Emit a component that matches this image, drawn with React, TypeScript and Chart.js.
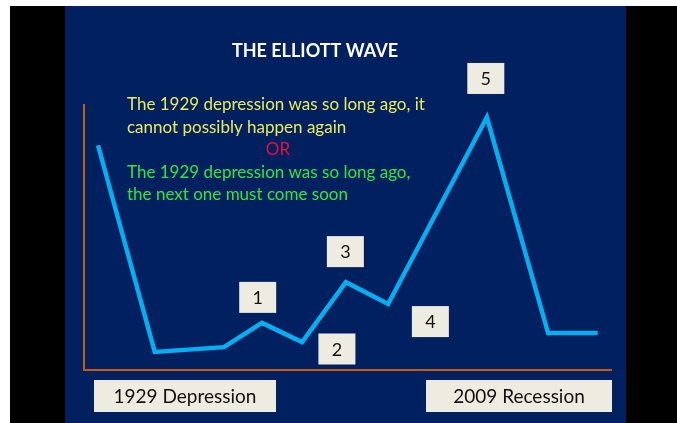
import React, { useEffect, useRef } from "react";
import { Chart, registerables } from "chart.js";

Chart.register(...registerables);

// Wave path (x: time position, y: market level), in data units
const waveX = [2.65, 13.4, 26.5, 33.7, 41.3, 49.6, 57.6, 76.3, 87.9, 97.3];
const waveY = [84.5, 6.8, 8.6, 17.7, 10.5, 33, 24.8, 95, 13.9, 13.9];

// Wave number labels and where they sit (data units)
const waveLabels = ["1", "2", "3", "4", "5"];
const waveLabelX = [32.9, 47.9, 49.5, 65.6, 76.1];
const waveLabelY = [27.3, 7.9, 44.5, 18.2, 109.6];

// Era labels under the axis
const eraLabels = ["1929 Depression", "2009 Recession"];

const title = "THE ELLIOTT WAVE";
const quoteA = ["The 1929 depression was so long ago, it", "cannot possibly happen again"];
const orText = "OR";
const quoteB = ["The 1929 depression was so long ago,", "the next one must come soon"];

const FONT = "Lato, 'Open Sans', sans-serif";
const NAVY = "#002060";
const BOX = "#eeece1";
const ORANGE = "#c55a11";

const decorPlugin = {
  id: "decor",
  beforeDraw(chart: any) {
    const { ctx, width, height } = chart;
    ctx.save();
    ctx.fillStyle = "#ffffff";
    ctx.fillRect(0, 0, width, height);
    ctx.fillStyle = "#000000";
    ctx.fillRect(10, 6, width - 10, height - 6);
    ctx.fillStyle = NAVY;
    ctx.fillRect(65, 6, 561, height - 6);
    ctx.restore();
  },
  beforeDatasetsDraw(chart: any) {
    const { ctx, chartArea } = chart;
    ctx.save();
    ctx.strokeStyle = ORANGE;
    ctx.lineWidth = 2;
    ctx.beginPath();
    ctx.moveTo(chartArea.left, chartArea.top);
    ctx.lineTo(chartArea.left, chartArea.bottom);
    ctx.lineTo(chartArea.right, chartArea.bottom);
    ctx.stroke();

    // title
    ctx.fillStyle = "#ffffff";
    ctx.textAlign = "center";
    ctx.textBaseline = "middle";
    ctx.font = `bold 18px ${FONT}`;
    ctx.fillText(title, 315, 51);

    // quotes
    ctx.textAlign = "left";
    ctx.font = `17px ${FONT}`;
    ctx.fillStyle = "#ebeb5c";
    ctx.fillText(quoteA[0], 127, 105);
    ctx.fillText(quoteA[1], 127, 128);
    ctx.fillStyle = "#e8103c";
    ctx.textAlign = "center";
    ctx.fillText(orText, 278, 150);
    ctx.textAlign = "left";
    ctx.fillStyle = "#33e640";
    ctx.fillText(quoteB[0], 127, 173);
    ctx.fillText(quoteB[1], 127, 195);

    // era labels
    const eraBoxes = [
      [94, 380, 182, 32],
      [426, 380, 186, 32],
    ];
    ctx.font = `19px ${FONT}`;
    ctx.textAlign = "center";
    eraLabels.forEach((t, i) => {
      const [x, y, w, h] = eraBoxes[i];
      ctx.fillStyle = BOX;
      ctx.fillRect(x, y, w, h);
      ctx.fillStyle = "#111111";
      ctx.fillText(t, x + w / 2, y + h / 2 + 1);
    });
    ctx.restore();
  },
  afterDatasetsDraw(chart: any) {
    const { ctx, scales } = chart;
    ctx.save();
    ctx.font = `18px ${FONT}`;
    ctx.textAlign = "center";
    ctx.textBaseline = "middle";
    waveLabels.forEach((t, i) => {
      const cx = scales.x.getPixelForValue(waveLabelX[i]);
      const cy = scales.y.getPixelForValue(waveLabelY[i]);
      ctx.fillStyle = BOX;
      ctx.fillRect(cx - 18.5, cy - 15.5, 37, 31);
      ctx.fillStyle = "#111111";
      ctx.fillText(t, cx, cy + 1);
    });
    ctx.restore();
  },
};

export default function App() {
  const ref = useRef<HTMLCanvasElement>(null);
  useEffect(() => {
    const canvas = ref.current!;
    const chart = new Chart(canvas, {
      type: "line",
      data: {
        datasets: [
          {
            data: waveX.map((x, i) => ({ x, y: waveY[i] })),
            borderColor: "#00b0f0",
            borderWidth: 4.5,
            pointRadius: 0,
            tension: 0,
            fill: false,
          },
        ],
      },
      options: {
        responsive: false,
        animation: false,
        devicePixelRatio: 1,
        layout: { padding: { left: 84, right: 65, top: 104, bottom: 53 } },
        plugins: { legend: { display: false }, tooltip: { enabled: false }, title: { display: false } },
        scales: {
          x: { type: "linear", min: 0, max: 100, display: false },
          y: { type: "linear", min: 0, max: 100, display: false },
        },
      },
      plugins: [decorPlugin],
    } as any);
    return () => chart.destroy();
  }, []);
  return (
    <div style={{ position: "fixed", left: 0, top: 0, width: 677, height: 423 }}>
      <canvas ref={ref} width={677} height={423} style={{ width: 677, height: 423, display: "block" }} />
    </div>
  );
}
